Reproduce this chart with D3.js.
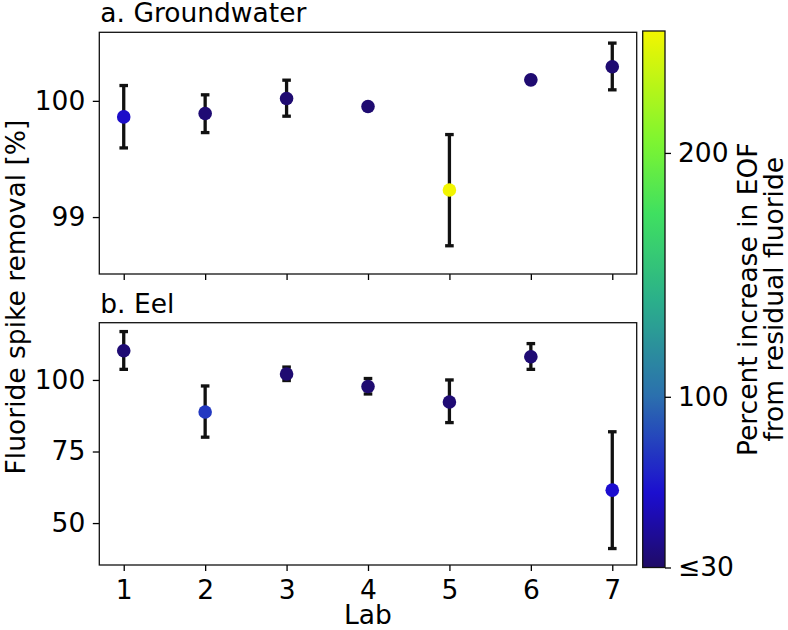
<!DOCTYPE html>
<html>
<head>
<meta charset="utf-8">
<title>Fluoride spike removal</title>
<script src="https://cdnjs.cloudflare.com/ajax/libs/d3/7.8.5/d3.min.js"></script>
<style>
body { margin: 0; background: #fff; }
text { font-family: 'DejaVu Sans', sans-serif; fill: #000; }
</style>
</head>
<body>
<div id="chart"></div>
<script>
// lab numbers
const labs = [1, 2, 3, 4, 5, 6, 7];

// a. Groundwater: mean, lower and upper error bar ends (null = no bar drawn)
const gwMean  = [99.862, 99.891, 100.020, 99.951, 99.233, 100.181, 100.293];
const gwLow   = [99.595, 99.727, 99.868, null, 98.753, null, 100.095];
const gwHigh  = [100.132, 100.052, 100.178, null, 99.710, null, 100.497];
const gwEof   = [58, 34, 33, 33, 250, 33, 33];

// b. Eel
const eelMean = [110.2, 88.8, 102.1, 97.7, 92.3, 108.1, 61.5];
const eelLow  = [103.7, 80.0, 99.8, 95.1, 85.1, 103.7, 41.1];
const eelHigh = [116.9, 97.9, 104.5, 100.5, 100.0, 112.7, 81.9];
const eelEof  = [34, 78, 33, 33, 34, 34, 60];

// colour bar
const cbTicks = [30, 100, 200];
const cbTickLabels = ["≤30", "100", "200"];
const cmapStops  = [30, 60, 100, 140, 175, 205, 250];
const cmapColors = ["#1f0b66", "#1c0dd0", "#2b6fae", "#2bb08a", "#3fe060", "#7ef530", "#f2f500"];

const W = 788, H = 630;
const svg = d3.select("#chart").append("svg")
    .attr("width", W).attr("height", H);

const left = 99.3, right = 636.7;
const x = d3.scaleLinear([0.7, 7.3], [left, right]);
const color = d3.scaleLinear(cmapStops, cmapColors).clamp(true);

function panel(opts) {
  const y = d3.scaleLinear(opts.domain, [opts.bottom, opts.top]);
  const g = svg.append("g");

  g.append("text")
      .attr("x", left + 1)
      .attr("y", opts.top - 10)
      .attr("font-size", 26.5)
      .text(opts.title);

  const yAxis = g.append("g")
      .attr("transform", `translate(${left},0)`)
      .call(d3.axisLeft(y).tickValues(opts.ticks).tickFormat(d3.format("d"))
            .tickSize(6.5).tickPadding(7.5));
  yAxis.select(".domain").remove();
  yAxis.selectAll("text").attr("font-size", 26.5).attr("font-family", "DejaVu Sans");
  yAxis.selectAll("line").attr("stroke-width", 1.3);

  const xAxis = g.append("g")
      .attr("transform", `translate(0,${opts.bottom})`)
      .call(d3.axisBottom(x).tickValues(labs).tickFormat(opts.showX ? d3.format("d") : "")
            .tickSize(6).tickPadding(9));
  xAxis.select(".domain").remove();
  xAxis.selectAll("text").attr("font-size", 26.5).attr("font-family", "DejaVu Sans");
  xAxis.selectAll("line").attr("stroke-width", 1.3);

  const rows = labs.map((lab, i) => ({
    lab, mean: opts.mean[i], low: opts.low[i], high: opts.high[i], eof: opts.eof[i]
  }));
  const bars = rows.filter(d => d.low != null);

  g.append("g").selectAll("line").data(bars).join("line")
      .attr("x1", d => x(d.lab)).attr("x2", d => x(d.lab))
      .attr("y1", d => y(d.low)).attr("y2", d => y(d.high))
      .attr("stroke", "#111").attr("stroke-width", 3.3);
  const caps = g.append("g");
  caps.selectAll("line.lo").data(bars).join("line").attr("class", "lo")
      .attr("x1", d => x(d.lab) - 4.3).attr("x2", d => x(d.lab) + 4.3)
      .attr("y1", d => y(d.low)).attr("y2", d => y(d.low))
      .attr("stroke", "#111").attr("stroke-width", 3.3);
  caps.selectAll("line.hi").data(bars).join("line").attr("class", "hi")
      .attr("x1", d => x(d.lab) - 4.3).attr("x2", d => x(d.lab) + 4.3)
      .attr("y1", d => y(d.high)).attr("y2", d => y(d.high))
      .attr("stroke", "#111").attr("stroke-width", 3.3);

  g.append("g").selectAll("circle").data(rows).join("circle")
      .attr("cx", d => x(d.lab)).attr("cy", d => y(d.mean))
      .attr("r", 6.8)
      .attr("fill", d => color(d.eof));

  g.append("rect")
      .attr("x", left).attr("y", opts.top)
      .attr("width", right - left).attr("height", opts.bottom - opts.top)
      .attr("fill", "none").attr("stroke", "#111").attr("stroke-width", 1.3);
}

panel({title: "a. Groundwater", top: 32.3, bottom: 274, domain: [98.51, 100.59],
       ticks: [99, 100], mean: gwMean, low: gwLow, high: gwHigh, eof: gwEof, showX: false});
panel({title: "b. Eel", top: 322.7, bottom: 565, domain: [35.35, 120],
       ticks: [50, 75, 100], mean: eelMean, low: eelLow, high: eelHigh, eof: eelEof, showX: true});

svg.append("text")
    .attr("x", (left + right) / 2).attr("y", 624)
    .attr("text-anchor", "middle").attr("font-size", 26.5)
    .text("Lab");

svg.append("text")
    .attr("transform", `translate(25,297) rotate(-90)`)
    .attr("text-anchor", "middle").attr("font-size", 26.5)
    .text("Fluoride spike removal [%]");

// colour bar
const cbX = 642.7, cbW = 22.3, cbTop = 31, cbBottom = 567.5;
const cb = d3.scaleLinear([30, 250], [cbBottom, cbTop]);
const grad = svg.append("defs").append("linearGradient")
    .attr("id", "cbgrad").attr("x1", 0).attr("y1", 1).attr("x2", 0).attr("y2", 0);
grad.selectAll("stop").data(d3.range(0, 1.0001, 0.02)).join("stop")
    .attr("offset", d => d)
    .attr("stop-color", d => color(30 + d * 220));
svg.append("rect")
    .attr("x", cbX).attr("y", cbTop).attr("width", cbW).attr("height", cbBottom - cbTop)
    .attr("fill", "url(#cbgrad)").attr("stroke", "#111").attr("stroke-width", 1.3);

const cbAxis = svg.append("g")
    .attr("transform", `translate(${cbX + cbW},0)`)
    .call(d3.axisRight(cb).tickValues(cbTicks)
          .tickFormat((d, i) => cbTickLabels[i]).tickSize(6).tickPadding(7));
cbAxis.select(".domain").remove();
cbAxis.selectAll("text").attr("font-size", 26.5).attr("font-family", "DejaVu Sans");
cbAxis.selectAll("line").attr("stroke-width", 1.3);

const cbLabel = svg.append("text")
    .attr("transform", `translate(757,${(cbTop + cbBottom) / 2}) rotate(-90)`)
    .attr("text-anchor", "middle").attr("font-size", 26.5);
cbLabel.append("tspan").attr("x", 0).attr("y", 0).text("Percent increase in EOF");
cbLabel.append("tspan").attr("x", 0).attr("y", 26).text("from residual fluoride");
</script>
</body>
</html>
